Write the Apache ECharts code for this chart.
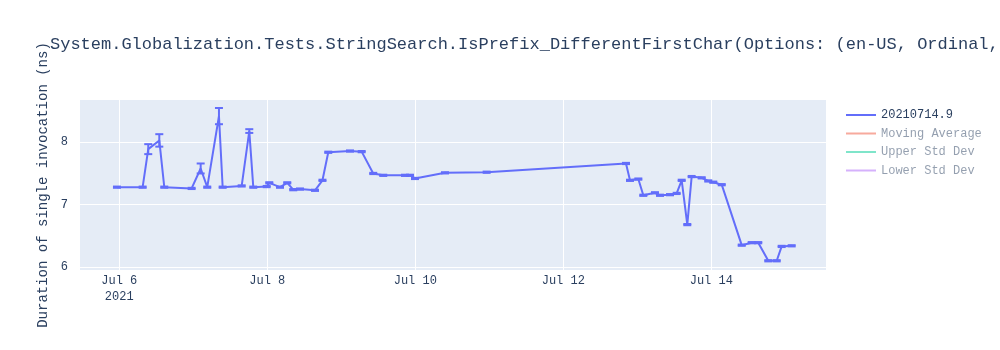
<!DOCTYPE html>
<html>
<head>
<meta charset="utf-8">
<script src="https://cdn.jsdelivr.net/npm/echarts@6/dist/echarts.min.js"></script>
<style>html,body{margin:0;padding:0;background:#fff}#c{width:1000px;height:350px}</style>
</head>
<body>
<div id="c"></div>
<script>
// ---- data ----
const times = [
  '2021-07-05 23:15','2021-07-06 07:35','2021-07-06 09:24','2021-07-06 12:59','2021-07-06 14:36',
  '2021-07-06 23:28','2021-07-07 02:24','2021-07-07 04:32','2021-07-07 08:20','2021-07-07 09:32',
  '2021-07-07 15:42','2021-07-07 18:10','2021-07-07 19:28','2021-07-07 23:49','2021-07-08 00:39',
  '2021-07-08 04:08','2021-07-08 06:29','2021-07-08 08:25','2021-07-08 10:36','2021-07-08 15:29',
  '2021-07-08 17:54','2021-07-08 19:47','2021-07-09 02:50','2021-07-09 06:37','2021-07-09 10:22',
  '2021-07-09 13:37','2021-07-09 20:40','2021-07-09 22:17','2021-07-09 23:54','2021-07-10 09:38',
  '2021-07-10 23:09','2021-07-12 20:20','2021-07-12 21:38','2021-07-13 00:20','2021-07-13 01:57',
  '2021-07-13 05:44','2021-07-13 07:22','2021-07-13 10:36','2021-07-13 12:46','2021-07-13 14:24',
  '2021-07-13 16:13','2021-07-13 17:38','2021-07-13 20:53','2021-07-13 23:01','2021-07-14 00:39',
  '2021-07-14 03:23','2021-07-14 09:52','2021-07-14 13:06','2021-07-14 15:14','2021-07-14 18:29',
  '2021-07-14 21:13','2021-07-14 22:49','2021-07-15 02:04'
];
const values = [
  7.28,7.28,7.89,8.03,7.28,
  7.26,7.58,7.28,8.42,7.28,
  7.30,8.18,7.28,7.29,7.35,
  7.28,7.35,7.24,7.25,7.23,
  7.39,7.84,7.86,7.85,7.50,
  7.47,7.47,7.47,7.42,7.51,
  7.52,7.66,7.39,7.41,7.15,
  7.19,7.15,7.16,7.18,7.39,
  6.68,7.45,7.43,7.38,7.36,
  7.32,6.35,6.39,6.39,6.10,
  6.10,6.33,6.34
];
const errors = [
  0.01,0.01,0.08,0.10,0.01,
  0.01,0.08,0.01,0.13,0.01,
  0.01,0.03,0.01,0.01,0.01,
  0.01,0.01,0.01,0.01,0.01,
  0.01,0.01,0.01,0.01,0.01,
  0.01,0.01,0.01,0.01,0.01,
  0.01,0.01,0.01,0.01,0.01,
  0.01,0.01,0.01,0.01,0.01,
  0.01,0.01,0.01,0.01,0.01,
  0.01,0.01,0.01,0.01,0.01,
  0.01,0.01,0.01
];
const xTicks = ['2021-07-06 00:00','2021-07-08 00:00','2021-07-10 00:00','2021-07-12 00:00','2021-07-14 00:00'];
const yTicks = [6, 7, 8];
const seriesName = '20210714.9';
const legendNames = ['20210714.9','Moving Average','Upper Std Dev','Lower Std Dev'];
const titleText = 'System.Globalization.Tests.StringSearch.IsPrefix_DifferentFirstChar(Options: (en-US, Ordinal,';
const yAxisTitle = 'Duration of single invocation (ns)';
const months = ['Jan','Feb','Mar','Apr','May','Jun','Jul','Aug','Sep','Oct','Nov','Dec'];

function t(s) {
  const [d, h] = s.split(' ');
  const [Y, M, D] = d.split('-').map(Number);
  const [hh, mm] = h.split(':').map(Number);
  return new Date(Y, M - 1, D, hh, mm).getTime();
}

const pts = times.map((s, i) => [t(s), values[i], errors[i]]);
const FONT = '"Liberation Mono", "DejaVu Sans Mono", monospace';
const TXT = '#2a3f5f';

const chart = echarts.init(document.getElementById('c'), null, {renderer: 'canvas'});
chart.setOption({
  animation: false,
  backgroundColor: '#fff',
  textStyle: {fontFamily: FONT},
  title: {
    text: titleText, left: 50, top: 36, padding: 0,
    textStyle: {fontFamily: FONT, fontSize: 17, fontWeight: 'normal', color: TXT}
  },
  legend: {
    orient: 'vertical', left: 846, top: 109, padding: 0, itemWidth: 30, itemHeight: 2, itemGap: 6.5,
    icon: 'rect',
    textStyle: {fontFamily: FONT, fontSize: 12, color: TXT},
    data: [
      {name: legendNames[0]},
      {name: legendNames[1], itemStyle: {color: '#EF553B', opacity: 0.5}, textStyle: {color: 'rgba(42,63,95,0.5)'}},
      {name: legendNames[2], itemStyle: {color: '#00cc96', opacity: 0.5}, textStyle: {color: 'rgba(42,63,95,0.5)'}},
      {name: legendNames[3], itemStyle: {color: '#ab63fa', opacity: 0.5}, textStyle: {color: 'rgba(42,63,95,0.5)'}}
    ]
  },
  grid: {left: 80, right: 174, top: 100, bottom: 80, show: true, backgroundColor: '#E5ECF6', borderWidth: 0},
  xAxis: {
    type: 'value', scale: true,
    min: t('2021-07-05 11:16'), max: t('2021-07-15 13:12'),
    axisLine: {show: false}, axisTick: {show: false, customValues: xTicks.map(t)},
    splitLine: {show: true, lineStyle: {color: '#fff', width: 1}},
    axisLabel: {
      customValues: xTicks.map(t), margin: 3, fontFamily: FONT, fontSize: 12, color: TXT, lineHeight: 16,
      hideOverlap: false,
      formatter: function (v) {
        const d = new Date(v);
        const s = months[d.getMonth()] + ' ' + d.getDate();
        return (d.getDate() === 6) ? s + '\n' + d.getFullYear() : s;
      }
    }
  },
  yAxis: {
    type: 'value', min: 5.952, max: 8.678,
    name: yAxisTitle, nameLocation: 'middle', nameGap: 30, nameRotate: 90,
    nameTextStyle: {fontFamily: FONT, fontSize: 14, color: TXT},
    axisLine: {show: false}, axisTick: {show: false, customValues: yTicks},
    splitLine: {show: true, lineStyle: {color: '#fff', width: 1}},
    axisLabel: {customValues: yTicks, margin: 12, fontFamily: FONT, fontSize: 12, color: TXT}
  },
  series: [
    {
      name: seriesName, type: 'line', data: pts.map(p => [p[0], p[1]]),
      showSymbol: false, symbol: 'none', color: '#636efa',
      lineStyle: {width: 2, color: '#636efa'}, z: 3
    },
    {
      name: 'errbars', type: 'custom', data: pts, encode: {x: 0, y: 1}, z: 2,
      renderItem: function (params, api) {
        const x = api.value(0), v = api.value(1), e = api.value(2);
        const a = api.coord([x, v + e]), b = api.coord([x, v - e]);
        const w = 4, st = {stroke: '#636efa', lineWidth: 2};
        return {type: 'group', children: [
          {type: 'line', shape: {x1: a[0], y1: a[1], x2: b[0], y2: b[1]}, style: st},
          {type: 'line', shape: {x1: a[0] - w, y1: a[1], x2: a[0] + w, y2: a[1]}, style: st},
          {type: 'line', shape: {x1: b[0] - w, y1: b[1], x2: b[0] + w, y2: b[1]}, style: st}
        ]};
      }
    },
    {name: legendNames[1], type: 'line', data: [], color: '#EF553B'},
    {name: legendNames[2], type: 'line', data: [], color: '#00cc96'},
    {name: legendNames[3], type: 'line', data: [], color: '#ab63fa'}
  ]
});
</script>
</body>
</html>
